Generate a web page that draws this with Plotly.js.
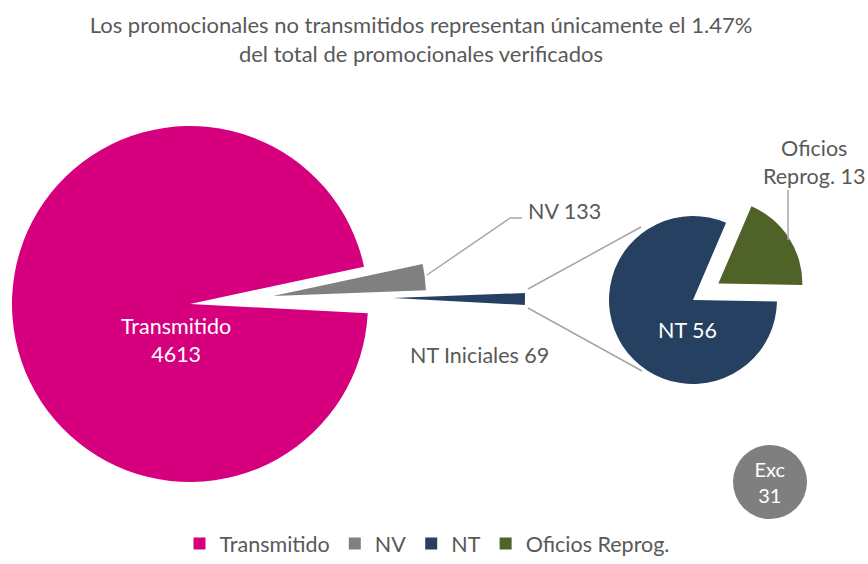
<!DOCTYPE html>
<html><head><meta charset="utf-8">
<script src="https://cdn.plot.ly/plotly-3.0.1.min.js"></script>
<style>html,body{margin:0;padding:0;background:#fff}#chart{width:868px;height:564px}</style>
</head><body><div id="chart"></div>
<script>
// ---- data ----
const titleLines = ["Los promocionales no transmitidos representan únicamente el 1.47%", "del total de promocionales verificados"];
const mainLabels = ["Transmitido", "NV", "NT Iniciales"];
const mainValues = [4613, 133, 69];
const subLabels = ["NT", "Oficios Reprog."];
const subValues = [56, 13];
const legendLabels = ["Transmitido", "NV", "NT", "Oficios Reprog."];
const excLabel = "Exc";
const excValue = 31;

// ---- styles ----
const W = 868, H = 564;
const px = x => x / W, py = y => 1 - y / H;
const colorOf = {"Transmitido": "#D6007E", "NV": "#808080", "NT": "#254061", "Oficios Reprog.": "#4F6228", "NT Iniciales": "#254061"};
const T = "rgba(0,0,0,0)";
const FONT = "Lato, 'Open Sans', sans-serif";
const GREY_TXT = "#595959";
const LINE = "#A6A6A6";
const FS = 21.5;

function box(cx, cy, half) {
  return {x: [px(cx - half), px(cx + half)], y: [py(cy + half), py(cy - half)]};
}
function mainTrace(showIdx, cx, cy, r) {
  return {
    type: "pie", labels: mainLabels, values: mainValues, sort: false,
    direction: "clockwise", rotation: 93, textinfo: "none", hoverinfo: "label+value",
    marker: {colors: mainLabels.map((l, i) => i === showIdx ? colorOf[l] : T), line: {width: 0}},
    domain: box(cx, cy, r), showlegend: false
  };
}

const subAll = legendLabels.map(l => { const k = subLabels.indexOf(l); return k >= 0 ? subValues[k] : 0; });
const subPull = 0.36, subR = 84;

const traces = [
  mainTrace(0, 190, 304, 178),   // Transmitido
  mainTrace(1, 273, 296, 153),   // NV (exploded)
  mainTrace(2, 393, 298, 132),   // NT Iniciales (exploded)
  {
    type: "pie", labels: legendLabels, values: subAll, sort: false,
    direction: "clockwise", rotation: 91, textinfo: "none", hoverinfo: "label+value",
    pull: legendLabels.map(l => l === "Oficios Reprog." ? subPull : 0),
    marker: {colors: legendLabels.map(l => colorOf[l]), line: {width: 0}},
    domain: box(693, 300, subR * (1 + subPull)), showlegend: true
  },
  {
    type: "pie", labels: [excLabel], values: [excValue], sort: false,
    textinfo: "text", texttemplate: "%{label}<br>%{value}", textposition: "inside",
    insidetextorientation: "horizontal",
    insidetextfont: {family: FONT, size: 20, color: "#FFFFFF"},
    marker: {colors: ["#7F7F7F"], line: {width: 0}},
    domain: box(770, 482, 37), showlegend: false
  }
];

const ofi = subLabels[1];
const annotations = [
  {x: px(176), y: py(340), text: mainLabels[0] + "<br>" + mainValues[0], font: {color: "#FFFFFF"}},
  {x: px(526), y: py(211), xanchor: "left", text: mainLabels[1] + " " + mainValues[1]},
  {x: px(479), y: py(355), text: mainLabels[2] + " " + mainValues[2]},
  {x: px(687), y: py(330), text: subLabels[0] + " " + subValues[0], font: {color: "#FFFFFF"}},
  {x: px(814), y: py(162), text: ofi.replace(" ", "<br>") + " " + subValues[1]}
].map(a => Object.assign({xref: "paper", yref: "paper", showarrow: false, xanchor: "center", yanchor: "middle"}, a,
  {font: Object.assign({family: FONT, size: FS, color: GREY_TXT}, a.font || {})}));

function seg(x0, y0, x1, y1) {
  return {type: "line", xref: "paper", yref: "paper", x0: px(x0), y0: py(y0), x1: px(x1), y1: py(y1), line: {color: LINE, width: 1.5}};
}
const shapes = [
  seg(427, 275, 510, 218), seg(510, 218, 522, 218),
  seg(528, 289, 641, 227), seg(528, 308, 642, 371),
  seg(788, 190, 788, 240)
];

const layout = {
  width: W, height: H, margin: {l: 0, r: 0, t: 0, b: 0, pad: 0, autoexpand: false},
  paper_bgcolor: "#FFFFFF", plot_bgcolor: "#FFFFFF",
  font: {family: FONT, size: FS, color: GREY_TXT},
  title: {text: titleLines.join("<br>"), font: {family: FONT, size: 22, color: GREY_TXT},
    x: px(421), xanchor: "center", xref: "paper", y: 1 - 33 / H, yanchor: "middle", yref: "container"},
  legend: {orientation: "h", x: px(427), xanchor: "center", y: 0, yanchor: "bottom",
    font: {family: FONT, size: FS, color: GREY_TXT}, bgcolor: "rgba(0,0,0,0)"},
  annotations, shapes
};
Plotly.newPlot("chart", traces, layout, {displayModeBar: false});
</script>
</body></html>
